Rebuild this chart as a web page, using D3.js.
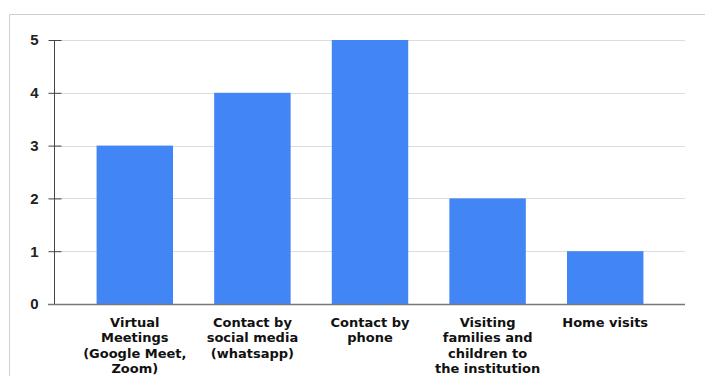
<!DOCTYPE html>
<html>
<head>
<meta charset="utf-8">
<script src="https://cdn.jsdelivr.net/npm/d3@7"></script>
<style>
  html, body { margin: 0; padding: 0; background: #fff; }
  svg { display: block; }
</style>
</head>
<body>
<script>
// Outreach methods and how many respondents reported each
const categories = [
  ["Virtual", "Meetings", "(Google Meet,", "Zoom)"],
  ["Contact by", "social media", "(whatsapp)"],
  ["Contact by", "phone"],
  ["Visiting", "families and", "children to", "the institution"],
  ["Home visits"]
];
const values = [3, 4, 5, 2, 1];
const yTicks = [0, 1, 2, 3, 4, 5];

const W = 705, H = 376;
const svg = d3.select("body").append("svg").attr("width", W).attr("height", H);

// frame around the chart area (top and left edges)
svg.append("path")
  .attr("d", `M9.5,${H} V14.5 H${W}`)
  .attr("fill", "none").attr("stroke", "#cfcfcf").attr("stroke-width", 1);

const ids = categories.map((c, i) => i);
const x = d3.scaleBand().domain(ids).range([76, 664]).paddingInner(0.35).paddingOuter(0.175);
const y = d3.scaleLinear().domain([0, 5]).range([304, 40]);

const axisLeft = 54, axisRight = 685;

// horizontal grid lines
svg.append("g").selectAll("line").data(yTicks.filter(t => t > 0)).join("line")
  .attr("x1", axisLeft).attr("x2", axisRight)
  .attr("y1", d => Math.round(y(d)) + 0.5).attr("y2", d => Math.round(y(d)) + 0.5)
  .attr("stroke", "#dcdcdc").attr("stroke-width", 1);

// bars
svg.append("g").selectAll("rect").data(values).join("rect")
  .attr("x", (d, i) => x(i))
  .attr("width", x.bandwidth())
  .attr("y", d => y(d))
  .attr("height", d => y(0) - y(d))
  .attr("fill", "#4285f4");

// y axis
const yAxis = d3.axisLeft(y).tickValues(yTicks).tickFormat(d3.format("d")).tickSize(6).tickPadding(10);
const gy = svg.append("g").attr("transform", `translate(${axisLeft + 0.5},0)`).call(yAxis);
gy.select(".domain").attr("stroke", "#444").attr("d", `M0,${y(5)}V${y(0)}`);
gy.selectAll(".tick line").attr("stroke", "#444").attr("x1", -6).attr("x2", 7);
gy.selectAll(".tick text")
  .attr("font-family", "Liberation Sans, Arial, sans-serif")
  .attr("font-weight", "bold").attr("font-size", 15).attr("fill", "#222");

// baseline
svg.append("line")
  .attr("x1", axisLeft - 6).attr("x2", axisRight)
  .attr("y1", y(0) + 0.5).attr("y2", y(0) + 0.5)
  .attr("stroke", "#777").attr("stroke-width", 1.5);

// category labels (multi-line)
const lab = svg.append("g").selectAll("text").data(categories).join("text")
  .attr("text-anchor", "middle")
  .attr("font-family", "DejaVu Sans, sans-serif")
  .attr("font-weight", "bold").attr("font-size", 13).attr("fill", "#111")
  .attr("transform", (d, i) => `translate(${x(i) + x.bandwidth() / 2},327)`);
lab.selectAll("tspan").data(d => d).join("tspan")
  .attr("x", 0).attr("dy", (d, j) => j === 0 ? 0 : 15.3)
  .text(d => d);
</script>
</body>
</html>
